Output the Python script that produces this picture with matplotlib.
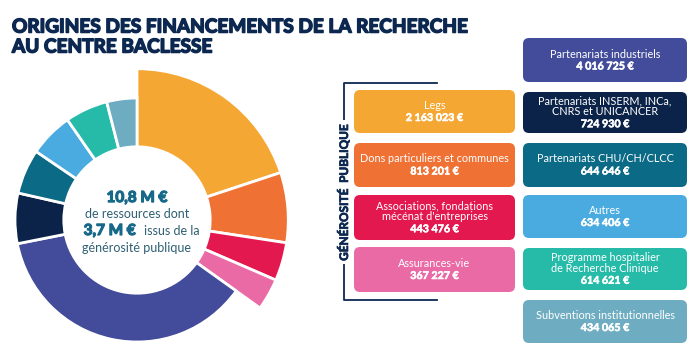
import matplotlib.pyplot as plt
import matplotlib.patheffects as pe
from matplotlib.patches import FancyBboxPatch

# funding sources, in the order they run clockwise round the donut
labels = ['Legs', 'Dons particuliers et communes',
          'Associations, fondations\nmécénat d\'entreprises', 'Assurances-vie',
          'Partenariats industriels', 'Partenariats INSERM, INCa,\nCNRS et UNICANCER',
          'Partenariats CHU/CH/CLCC', 'Autres',
          'Programme hospitalier\nde Recherche Clinique', 'Subventions institutionnelles']
values = [2163023, 813201, 443476, 367227, 4016725, 724930, 644646, 634406, 614621, 434065]
colors = ['#f5a733', '#ef7134', '#e3184f', '#ea6aa6', '#434c9b', '#0b2349',
          '#0b6a85', '#4aabe0', '#25bba8', '#6eacc1']
generosite = [True, True, True, True, False, False, False, False, False, False]

total_txt = '10,8 M €'
gen_txt = '3,7 M €'
navy = '#0c2850'
teal = '#17698a'

plt.rcParams['font.family'] = ['Lato', 'DejaVu Sans']

def heavy(c, w=0.9):
    return [pe.withStroke(linewidth=w, foreground=c)]

fig = plt.figure(figsize=(6.96, 3.56), dpi=100)
W, H = 696, 356

# donut, the public-generosity part sticks out further
cx, cy, r = 137, 220, 122
lim = 1.4
ax = fig.add_axes([(cx - lim * r) / W, (H - cy - lim * r) / H, 2 * lim * r / W, 2 * lim * r / H])
wp = dict(edgecolor='white', linewidth=2)
big, _ = ax.pie(values, colors=colors, startangle=90, counterclock=False,
                radius=1.24, wedgeprops=dict(width=0.64, **wp))
small, _ = ax.pie(values, colors=colors, startangle=90, counterclock=False,
                  radius=1.0, wedgeprops=dict(width=0.4, **wp))
for w, g in zip(big, generosite):
    w.set_visible(g)
for w, g in zip(small, generosite):
    w.set_visible(not g)
ax.set_xlim(-lim, lim)
ax.set_ylim(-lim, lim)
ax.set_aspect('equal')
ax.axis('off')

ax.text(0, 0.18, total_txt, ha='center', va='center', fontsize=11,
        fontweight='bold', color=teal, path_effects=heavy(teal))
ax.text(0, 0.05, 'de ressources dont', ha='center', va='center', fontsize=9, color='#2e5f72')
ax.text(-0.01, -0.09, gen_txt, ha='right', va='center', fontsize=11,
        fontweight='bold', color=teal, path_effects=heavy(teal))
ax.text(0.06, -0.09, 'issus de la', ha='left', va='center', fontsize=9, color='#2e5f72')
ax.text(0, -0.23, 'générosité publique', ha='center', va='center', fontsize=9, color='#2e5f72')

# overlay in pixel coordinates for title and boxes
ov = fig.add_axes([0, 0, 1, 1])
ov.set_xlim(0, W)
ov.set_ylim(H, 0)
ov.axis('off')

ov.text(12, 27, 'ORIGINES DES FINANCEMENTS DE LA RECHERCHE', ha='left', va='center',
        fontsize=13.7, fontweight='bold', color=navy, path_effects=heavy(navy, 1.1))
ov.text(12, 47, 'AU CENTRE BACLESSE', ha='left', va='center',
        fontsize=13.7, fontweight='bold', color=navy, path_effects=heavy(navy, 1.1))

def fmt(v):
    return '{:,}'.format(v).replace(',', ' ') + ' €'

def box(x0, y0, x1, y1, color, label, value):
    ov.add_patch(FancyBboxPatch((x0 + 6, y0 + 6), x1 - x0 - 12, y1 - y0 - 12,
                                boxstyle='round,pad=6', facecolor=color, edgecolor='none'))
    xm, ym = (x0 + x1) / 2, (y0 + y1) / 2
    lines = label.split('\n')
    ys = [10.5 * k for k in range(len(lines))]
    ys.append(ys[-1] + 12)
    off = ym - (ys[0] + ys[-1]) / 2
    for k, line in enumerate(lines + [fmt(value)]):
        if k == len(lines):
            ov.text(xm, ys[k] + off, line, ha='center', va='center', fontsize=7.7,
                    color='white', fontweight='bold', path_effects=heavy('white', 0.4))
        else:
            ov.text(xm, ys[k] + off, line, ha='center', va='center', fontsize=7.8,
                    color='white')

left_boxes = [(90, 133), (143, 187), (195, 240), (247, 292)]
right_boxes = [(38, 82), (92, 133), (143, 187), (195, 238), (248, 290), (300, 343)]
gi = [i for i, g in enumerate(generosite) if g]
oi = [i for i, g in enumerate(generosite) if not g]
for (y0, y1), i in zip(left_boxes, gi):
    box(354, y0, 515, y1, colors[i], labels[i], values[i])
for (y0, y1), i in zip(right_boxes, oi):
    box(523, y0, 687, y1, colors[i], labels[i], values[i])

# bracket for the public generosity group
ov.plot([437, 344, 344, 437], [83, 83, 300, 300], color=navy, lw=1.3)
ov.text(344, 192, 'GÉNÉROSITÉ  PUBLIQUE', rotation=90, ha='center', va='center',
        fontsize=8.5, fontweight='bold', color=navy, path_effects=heavy(navy, 0.5),
        bbox=dict(facecolor='white', edgecolor='none', pad=2))

plt.savefig('out.png', dpi=100)
